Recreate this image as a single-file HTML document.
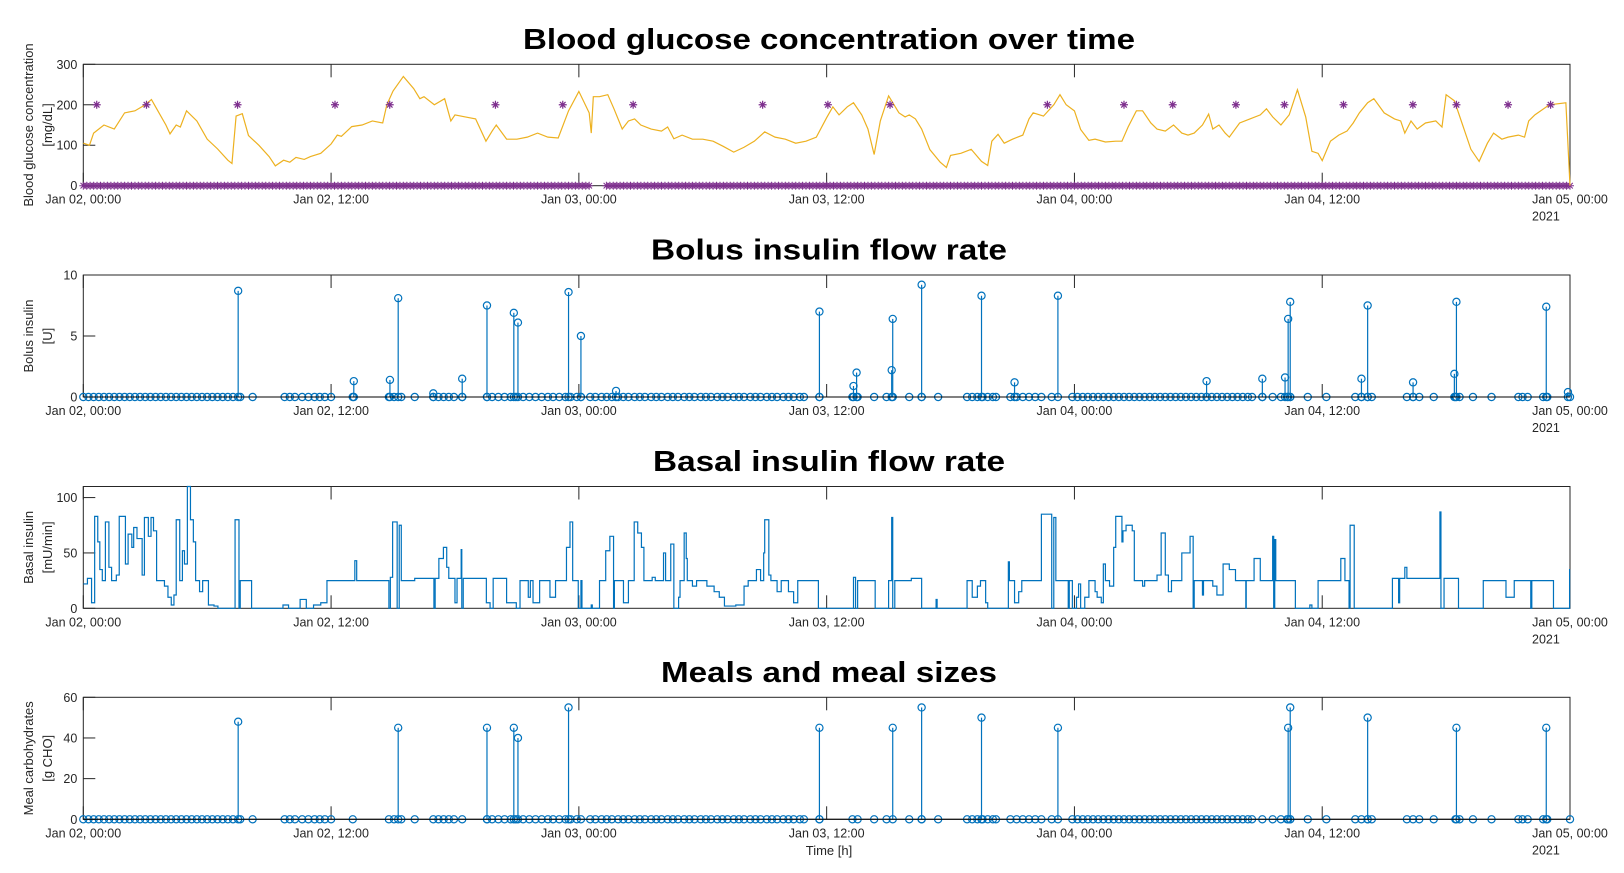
<!DOCTYPE html>
<html><head><meta charset="utf-8"><style>
html,body{margin:0;padding:0;background:#fff;}
svg{display:block;font-family:"Liberation Sans",Arial,sans-serif;}
</style></head><body>
<svg id="fig" width="1624" height="873" viewBox="0 0 1624 873" xmlns="http://www.w3.org/2000/svg"></svg>
<script>
// ---------- data ----------
const glucoseHours=[0,0.3,0.5,1,1.5,2,2.5,3,3.3,3.5,4,4.2,4.5,4.7,5,5.5,6,6.5,7,7.2,7.4,7.7,8,8.5,9,9.3,9.7,10,10.3,10.7,11,11.5,12,12.3,12.5,13,13.5,14,14.5,14.7,15,15.5,16,16.3,16.5,17,17.5,17.8,18,18.5,19,19.5,19.8,20,20.5,21,21.5,22,22.5,23,23.5,24,24.5,24.6,24.7,25,25.4,25.7,26.1,26.4,26.7,27,27.5,28,28.3,28.6,29,29.5,30,30.5,31,31.5,32,32.5,33,33.5,34,34.5,35,35.5,36,36.3,36.6,37,37.3,37.7,38,38.3,38.6,39,39.5,39.8,40,40.3,40.6,41,41.5,41.8,42,42.5,43,43.5,43.8,44,44.3,44.6,45,45.5,45.8,46,46.5,47,47.3,47.6,48,48.3,48.7,49,49.5,50,50.3,50.6,51,51.3,51.7,52,52.4,52.8,53.2,53.5,53.8,54.2,54.5,54.7,55,55.3,55.5,56,56.5,57,57.3,57.6,58,58.4,58.8,59.2,59.5,59.8,60,60.4,60.8,61.2,61.5,61.8,62.2,62.5,63,63.5,63.8,64,64.3,64.6,65,65.5,65.8,66,66.4,66.8,67.2,67.6,68,68.3,68.7,69,69.5,69.8,70,70.3,71,71.8,72];
const glucoseValues=[105,100,130,150,140,180,185,200,213,195,150,128,150,145,185,160,115,91,63,55,172,178,124,100,72,49,63,58,70,65,72,80,103,125,122,146,150,160,155,200,234,270,240,215,220,200,215,160,175,170,165,110,135,150,115,115,120,130,120,118,185,233,180,130,220,220,225,190,140,160,165,150,140,135,145,116,125,115,115,110,97,83,95,110,133,120,115,105,110,120,168,195,175,195,205,175,140,77,160,222,180,170,175,165,140,89,58,45,75,80,90,60,50,110,127,105,115,125,165,180,172,200,225,200,185,139,112,115,108,110,110,145,185,185,155,140,135,150,130,125,130,150,177,140,150,130,120,155,165,175,190,170,150,175,237,170,85,80,62,110,125,135,155,180,205,215,180,165,160,130,160,140,155,160,145,225,210,150,90,60,105,130,115,120,125,120,160,175,200,205,0];
const carbFlagHours=[0.65,3.06,7.47,12.19,14.84,19.96,23.22,26.63,32.9,36.06,39.07,46.69,50.4,52.76,55.82,58.17,61.03,64.39,66.5,69.0,71.06];
const carbFlagValues=[200,200,200,200,200,200,200,200,200,200,200,200,200,200,200,200,200,200,200,200,200];

const bolusHours=[7.5,13.1,14.85,15.25,18.35,16.95,19.55,20.85,21.05,23.5,24.1,25.8,35.65,37.3,37.45,39.15,39.2,40.6,43.5,45.1,47.2,54.4,57.1,58.2,58.35,58.45,61.9,62.2,64.4,66.4,66.5,70.85,71.9];
const bolusValues=[8.7,1.3,1.4,8.1,1.5,0.3,7.5,6.9,6.1,8.6,5.0,0.5,7.0,0.9,2.0,2.2,6.4,9.2,8.3,1.2,8.3,1.3,1.5,1.6,6.4,7.8,1.5,7.5,1.2,1.9,7.8,7.4,0.4];
const zeroHours=[0,0.25,0.5,0.75,1,1.25,1.5,1.75,2,2.25,2.5,2.75,3,3.25,3.5,3.75,4,4.25,4.5,4.75,5,5.25,5.5,5.75,6,6.25,6.5,6.75,7,7.25,7.6,8.2,9.75,10,10.25,10.6,10.9,11.2,11.45,11.7,12.0,13.05,14.8,15.05,15.4,16.05,16.95,17.2,17.45,17.7,17.95,18.35,19.55,19.8,20.1,20.4,20.7,20.95,21.3,21.6,21.9,22.2,22.5,22.75,23.05,23.35,23.6,23.9,24.1,24.55,24.8,25.1,25.35,25.6,25.9,26.15,26.4,26.7,26.95,27.2,27.5,27.75,28,28.3,28.55,28.8,29.1,29.35,29.6,29.9,30.15,30.4,30.7,30.95,31.2,31.5,31.75,32,32.3,32.55,32.8,33.1,33.35,33.6,33.9,34.15,34.4,34.7,34.9,35.65,37.25,37.5,38.3,38.9,40.0,40.6,41.4,42.8,43.05,43.3,43.55,43.8,44.05,44.2,44.9,45.2,45.5,45.8,46.1,46.4,46.9,47.9,48.15,48.4,48.65,48.9,49.15,49.4,49.65,49.9,50.15,50.4,50.65,50.9,51.15,51.4,51.65,51.9,52.15,52.4,52.65,52.9,53.15,53.4,53.65,53.9,54.15,54.4,54.65,54.9,55.15,55.4,55.65,55.9,56.15,56.4,56.6,57.1,57.6,58.0,58.3,58.45,59.3,60.2,61.6,61.9,62.2,62.4,64.1,64.4,64.7,65.4,66.45,66.65,67.3,68.2,69.5,69.7,69.95,70.7,70.9,72];

const mealHours=[7.5,15.25,19.55,20.85,21.05,23.5,35.65,39.2,40.6,43.5,47.2,58.35,58.45,62.2,66.5,70.85];
const mealValues=[48,45,45,45,40,55,45,45,55,50,45,45,55,50,45,45];

const basalHours=[0,0.2,0.4,0.55,0.7,0.8,0.92,1.07,1.24,1.37,1.6,1.74,2.04,2.17,2.35,2.44,2.6,2.85,2.96,3.15,3.28,3.4,3.55,3.93,4.1,4.26,4.39,4.5,4.67,4.8,4.9,5.04,5.19,5.33,5.44,5.63,5.78,6.06,6.33,6.52,7.35,7.54,7.6,8.15,9.67,9.94,10.5,10.8,11.15,11.5,11.8,13.15,13.24,14.8,14.87,14.98,15.2,15.3,15.4,16.05,16.98,17.04,17.22,17.44,17.6,17.7,18.0,18.1,18.3,18.33,18.4,19.52,19.7,19.85,20.5,20.97,21.15,21.55,21.65,21.78,22.1,22.6,22.87,23.4,23.57,23.7,23.97,24.1,24.15,24.6,24.65,25.0,25.3,25.5,25.68,25.72,26.16,26.4,26.68,26.85,27.03,27.15,27.55,27.7,28.1,28.2,28.45,28.6,28.83,28.9,29.1,29.2,29.25,29.5,29.7,30.2,30.55,30.8,31.05,31.6,32.0,32.2,32.6,32.8,32.95,33.0,33.2,33.3,33.6,33.8,34.15,34.4,34.6,35.6,37.3,37.4,37.5,38.35,39.0,39.15,39.2,39.3,40.1,40.6,41.3,41.35,42.8,43.05,43.3,43.45,43.7,43.8,44.8,44.85,45.1,45.3,45.45,46.4,46.9,47.0,47.1,47.7,47.75,47.9,48.1,48.2,48.3,48.5,48.7,49.0,49.1,49.3,49.4,49.5,49.7,49.9,50.0,50.3,50.35,50.5,50.8,50.9,51.3,51.4,52.0,52.2,52.4,52.55,52.7,53.2,53.6,53.75,53.8,54.2,54.25,54.7,54.9,55.2,55.5,55.8,56.3,56.32,56.7,57.0,57.6,57.65,57.7,57.75,58.7,59.4,59.5,59.8,60.9,61.1,61.3,61.35,61.55,63.4,63.7,63.75,64.0,64.1,65.7,65.75,65.9,66.6,67.8,68.9,69.3,70.1,70.15,71.2,71.98];
const basalValues=[22,27,5,83,60,35,25,78,37,25,30,83,40,67,55,73,63,30,82,65,82,70,25,20,10,3,12,80,25,52,40,110,80,60,25,15,25,3,2,0,80,0,25,0,3,0,8,0,3,5,25,43,25,0,28,78,0,75,25,27,0,27,45,55,37,27,5,27,53,0,27,5,0,27,5,0,25,10,25,5,25,10,25,55,78,25,0,25,0,3,0,25,52,65,0,25,5,25,78,68,55,25,28,25,50,25,58,0,10,25,68,45,25,20,25,20,15,10,2,3,20,25,35,25,50,80,30,25,15,25,15,5,25,0,28,0,25,0,25,82,0,25,27,0,8,0,25,10,20,25,5,0,42,25,5,15,25,85,0,82,25,0,25,0,10,22,0,10,25,15,10,5,40,25,20,55,83,60,70,75,70,25,20,25,30,68,30,15,25,50,65,0,25,12,25,20,12,40,35,25,0,25,45,25,65,0,62,25,0,3,0,25,45,25,0,75,0,27,5,27,37,27,87,0,27,0,25,10,25,0,25,0,35];

const xTickHours=[0,12,24,36,48,60,72];
const xTickLabels=["Jan 02, 00:00","Jan 02, 12:00","Jan 03, 00:00","Jan 03, 12:00","Jan 04, 00:00","Jan 04, 12:00","Jan 05, 00:00"];
const glucoseTicks=[0,100,200,300];
const bolusTicks=[0,5,10];
const basalTicks=[0,50,100];
const mealTicks=[0,20,40,60];

// ---------- drawing ----------
const NS="http://www.w3.org/2000/svg";
const svg=document.getElementById('fig');
const X0=83.3,X1=1570;
const xs=h=>X0+h/72*(X1-X0);
function el(tag,attrs,parent){const e=document.createElementNS(NS,tag);for(const k in attrs)e.setAttribute(k,attrs[k]);(parent||svg).appendChild(e);return e;}
function txt(s,attrs,parent){const t=el('text',attrs,parent);t.textContent=s;return t;}

function makeAxes(name,top,bottom,ymax,ticks,title,titleLen,ylab1,ylab2,last){
  const g=el('g',{});
  
  
  const ys=v=>bottom-v/ymax*(bottom-top);
  const t=txt(title,{x:829,y:top-15.5,'text-anchor':'middle','font-size':29,'font-weight':'bold',fill:'#000',textLength:titleLen,lengthAdjust:'spacingAndGlyphs'},g);
  
  
  const yl=txt('',{transform:`translate(33,${(top+bottom)/2}) rotate(-90)`,'text-anchor':'middle','font-size':13,fill:'#262626'},g);
  
  
  const s1=el('tspan',{x:0,y:0},yl);s1.textContent=ylab1;
  const s2=el('tspan',{x:0,y:19},yl);s2.textContent=ylab2;
  for(const v of ticks){
    const y=ys(v);
    el('line',{x1:X0,x2:X0+12,y1:y,y2:y,stroke:'#262626','stroke-width':1},g);
    const tl=txt(String(v),{x:X0-6,y:y+4.5,'text-anchor':'end','font-size':12.5,fill:'#262626'},g);
    
    
  }
  xTickHours.forEach((h,i)=>{
    const x=xs(h);
    el('line',{x1:x,x2:x,y1:top,y2:top+13,stroke:'#262626','stroke-width':1},g);
    el('line',{x1:x,x2:x,y1:bottom,y2:bottom-13,stroke:'#262626','stroke-width':1},g);
    const tl=txt(xTickLabels[i],{x:x,y:bottom+18,'text-anchor':'middle','font-size':12.5,fill:'#262626'},g);
    
    
  });
  if(last){
    const yr=txt('2021',{x:xs(72)-38,y:bottom+35,'font-size':12.5,fill:'#262626'},g);
    
    
  }
  const box=el('rect',{x:X0,y:top,width:X1-X0,height:bottom-top,fill:'none',stroke:'#262626','stroke-width':1},g);
  
  
  return ys;
}

// Panel 1: glucose
const ys1=makeAxes('glucose',64.3,185.7,300,glucoseTicks,'Blood glucose concentration over time',612,'Blood glucose concentration','[mg/dL]',true);
const starG=el('g',{stroke:'#7E2F8E','stroke-width':1,fill:'none'});


function star(x,y,parent){
  const r=4;
  el('path',{d:`M${x-r},${y}H${x+r}M${x},${y-r}V${y+r}M${x-r*0.7},${y-r*0.7}L${x+r*0.7},${y+r*0.7}M${x-r*0.7},${y+r*0.7}L${x+r*0.7},${y-r*0.7}`},parent);
}
for(let k=0;k<=864;k+=2){const h=k/12; if(h>24.65&&h<25.2)continue; star(xs(h),ys1(0),starG);}
const gl=el('polyline',{points:glucoseHours.map((h,i)=>xs(h)+','+ys1(glucoseValues[i])).join(' '),fill:'none',stroke:'#EDB120','stroke-width':1.2});


const starG2=el('g',{stroke:'#7E2F8E','stroke-width':1.2,fill:'none'});


carbFlagHours.forEach((h,i)=>star(xs(h),ys1(carbFlagValues[i]),starG2));

function stems(name,hours,values,zeros,ys){
  const g=el('g',{stroke:'#0072BD','stroke-width':1.2,fill:'none'});
  
  
  zeros.forEach(h=>{el('circle',{cx:xs(h),cy:ys(0),r:3.6},g);});
  hours.forEach((h,i)=>{
    const x=xs(h);
    el('line',{x1:x,x2:x,y1:ys(0),y2:ys(values[i])},g);
    el('circle',{cx:x,cy:ys(values[i]),r:3.6},g);
    el('circle',{cx:x,cy:ys(0),r:3.6},g);
  });
  const bl=el('line',{x1:X0,x2:X1,y1:ys(0),y2:ys(0),stroke:'#000','stroke-width':1});
  
  
}

// Panel 2: bolus
const ys2=makeAxes('bolus',275,397,10,bolusTicks,'Bolus insulin flow rate',356,'Bolus insulin','[U]',true);
stems('bolus',bolusHours,bolusValues,zeroHours,ys2);

// Panel 3: basal
const ys3=makeAxes('basal',486.5,608.3,110,basalTicks,'Basal insulin flow rate',352,'Basal insulin','[mU/min]',true);
let d='';
basalHours.forEach((h,i)=>{
  const x=xs(h),y=ys3(basalValues[i]);
  if(i===0)d+=`M${x},${y}`;else d+=`V${y}`;
  const nx=i<basalHours.length-1?xs(basalHours[i+1]):xs(72);
  d+=`H${nx}`;
});
const bp=el('path',{d:d,fill:'none',stroke:'#0072BD','stroke-width':1.2});



// Panel 4: meals
const ys4=makeAxes('meals',697.3,819.3,60,mealTicks,'Meals and meal sizes',336,'Meal carbohydrates','[g CHO]',true);
stems('meals',mealHours,mealValues,zeroHours,ys4);
const xt=txt('Time [h]',{x:829,y:855,'text-anchor':'middle','font-size':13,fill:'#262626'});


</script>
</body></html>
